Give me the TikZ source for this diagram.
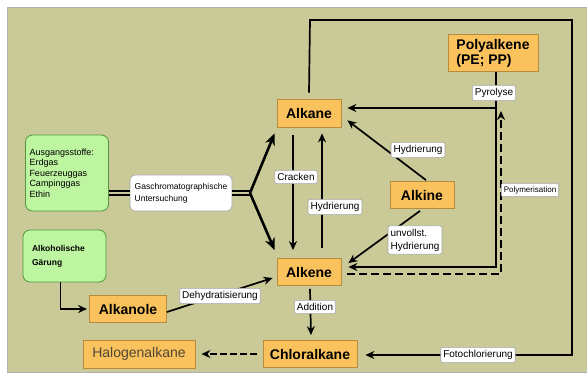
\documentclass[tikz,border=0pt]{standalone}
\usepackage{fontspec}
\setmainfont{Liberation Sans}
\usetikzlibrary{arrows.meta}
\definecolor{bg}{RGB}{201,202,152}
\definecolor{orng}{RGB}{250,194,92}
\definecolor{obord}{RGB}{185,140,60}
\definecolor{grn}{RGB}{190,245,160}
\definecolor{gbord}{RGB}{80,150,60}
\definecolor{halotext}{RGB}{80,70,55}
\tikzset{
  box/.style={draw=obord, fill=orng, line width=0.8pt, inner sep=2pt,
    font=\fontsize{14}{15}\selectfont\bfseries},
  greenbox/.style={draw=gbord, fill=grn, line width=0.8pt, rounded corners=7pt, inner sep=0pt},
  lab/.style={draw=gray!70, fill=white, rounded corners=2pt, line width=0.6pt,
    inner xsep=2.5pt, inner ysep=3pt, font=\fontsize{10}{11}\selectfont},
  conn/.style={line width=1.7pt, -{Stealth[length=9pt,width=8pt]}},
  thick arrow/.style={line width=2.6pt, -{Stealth[length=12pt,width=10pt]}},
  plain/.style={line width=1.7pt},
  dbl/.style={line width=2.2pt, double=bg, double distance=1.3pt},
}
\begin{document}
\begin{tikzpicture}[x=1pt,y=-1pt]
\useasboundingbox (0,0) rectangle (587,377);
\fill[white] (0,0) rectangle (587,377);
\filldraw[fill=bg, draw=gray!60, line width=0.6pt] (7,7) rectangle (590,372);

% main boxes
\node[box, minimum width=64pt, minimum height=28pt] (alkane) at (309,113) {Alkane};
\node[box, minimum width=64pt, minimum height=27pt] (alkene) at (309,272) {Alkene};
\node[box, minimum width=64pt, minimum height=27pt] (alkine) at (422,195) {Alkine};
\node[box, minimum width=90pt, minimum height=37pt, align=left] (poly) at (493,53) {Polyalkene\\(PE; PP)};
\node[box, minimum width=94pt, minimum height=27pt] (chlor) at (310,354) {Chloralkane};
\node[box, minimum width=77pt, minimum height=27pt] (alkanole) at (128,309) {Alkanole};
\node[box, minimum width=112pt, minimum height=28pt, font=\fontsize{14}{15}\selectfont, text=halotext] (halo) at (139,354) {Halogenalkane};

% green boxes
\node[greenbox, minimum width=83pt, minimum height=76pt, text width=75pt, align=left,
  font=\fontsize{9}{10.5}\selectfont] (aus) at (67,173)
  {Ausgangsstoffe:\\Erdgas\\Feuerzeuggas\\Campinggas\\Ethin};
\node[greenbox, minimum width=83pt, minimum height=52pt, text width=65pt, align=left,
  font=\fontsize{8.5}{14}\selectfont\bfseries] (gaer) at (64.5,256)
  {Alkoholische\\Gärung};

% Gaschromatographie
\node[lab, rounded corners=5pt, minimum width=102pt, minimum height=36pt, align=left,
  font=\fontsize{8.5}{12}\selectfont] (gc) at (181,193) {Gaschromatographische\\Untersuchung};
\coordinate (j) at (250,193);
\draw[dbl] (aus.east |- gc.west) -- (gc.west);
\draw[dbl] (gc.east) -- (j);
\draw[thick arrow] (j) -- ([xshift=-2pt,yshift=-6pt]alkane.south west);
\draw[thick arrow] (j) -- ([xshift=-2pt,yshift=8pt]alkene.north west);

% Cracken / Hydrierung vertical
\draw[conn] ([xshift=-16pt,yshift=-8pt]alkane.south) -- ([xshift=-16pt,yshift=8pt]alkene.north);
\draw[conn] ([xshift=13pt,yshift=10pt]alkene.north) -- ([xshift=13pt,yshift=-6pt]alkane.south);
\node[lab] (crack) at (296,177) {Cracken};
\node[lab] (hyd1) at (335,207) {Hydrierung};

% Alkine connectors
\draw[conn] ([xshift=4pt,yshift=1pt]alkine.north) -- ([xshift=6pt,yshift=7pt]alkane.south east);
\node[lab] (hyd2) at (418,150) {Hydrierung};
\draw[conn] ([xshift=-2pt,yshift=-2pt]alkine.south) -- ([xshift=7pt,yshift=-5pt]alkene.north east);
\node[lab, align=left, font=\fontsize{10}{13}\selectfont] (unv) at (415,240) {unvollst.\\Hydrierung};

% Pyrolyse (solid inner lines)
\coordinate (c1) at (496,108);
\coordinate (c2) at (496,267);
\path (alkane.east) ++(6pt,0) coordinate (aR);
\path (alkene.east) ++(7pt,0) coordinate (eR);
\draw[plain] ([xshift=3pt]poly.south) -- (c1);
\draw[conn] (c1) -- (aR |- c1);
\draw[conn] (c1) -- (c2) -- (eR |- c2);
\node[lab] (pyro) at (494,93) {Pyrolyse};

% Polymerisation (dashed)
\coordinate (d1) at (501,274);
\coordinate (pe) at (501,111);
\draw[conn, dashed, dash pattern=on 8pt off 4pt] ([xshift=6pt,yshift=-2pt]alkene.east) -- (d1) -- (pe);
\node[lab, font=\fontsize{8}{9}\selectfont] (polym) at (530,190) {Polymerisation};

% Fotochlorierung (outer)
\coordinate (o1) at (310,20);
\coordinate (o2) at (572,20);
\coordinate (o3) at (572,355);
\draw[conn] ([yshift=6pt]alkane.north) -- (o1) -- (o2) -- (o3) -- ([xshift=8pt,yshift=-1pt]chlor.east);
\node[lab] (foto) at (478,355) {Fotochlorierung};

% Addition
\draw[conn] ([xshift=1pt,yshift=-3pt]alkene.south) -- ([xshift=1pt,yshift=5pt]chlor.north);
\node[lab] (add) at (315,307) {Addition};

% Dehydratisierung
\draw[conn] ([yshift=-3pt]alkanole.east) -- ([xshift=-4pt,yshift=-6pt]alkene.west);
\node[lab] (dehy) at (220,296) {Dehydratisierung};

% Gaerung -> Alkanole
\draw[conn] ([xshift=-4pt]gaer.south) |- ([xshift=-2pt]alkanole.west);

% Chloralkane -> Halogenalkane
\draw[conn, dashed, dash pattern=on 7pt off 3pt] ([xshift=-6pt]chlor.west) -- ([xshift=6pt]halo.east);
\end{tikzpicture}
\end{document}
